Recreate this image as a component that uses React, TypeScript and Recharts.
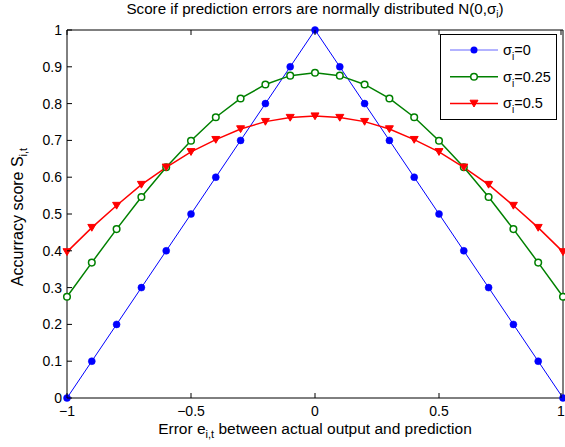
import { LineChart, Line, XAxis, YAxis, Legend } from 'recharts'

const errors = [-1, -0.9, -0.8, -0.7, -0.6, -0.5, -0.4, -0.3, -0.2, -0.1, 0, 0.1, 0.2, 0.3, 0.4, 0.5, 0.6, 0.7, 0.8, 0.9, 1]
const sigma0 = [0, 0.1, 0.2, 0.3, 0.4, 0.5, 0.6, 0.7, 0.8, 0.9, 1, 0.9, 0.8, 0.7, 0.6, 0.5, 0.4, 0.3, 0.2, 0.1, 0]
const sigma025 = [0.275, 0.368, 0.459, 0.546, 0.627, 0.699, 0.763, 0.814, 0.852, 0.876, 0.884, 0.876, 0.852, 0.814, 0.763, 0.699, 0.627, 0.546, 0.459, 0.368, 0.275]
const sigma05 = [0.397, 0.463, 0.523, 0.58, 0.627, 0.669, 0.702, 0.731, 0.751, 0.762, 0.766, 0.762, 0.751, 0.731, 0.702, 0.669, 0.627, 0.58, 0.523, 0.463, 0.397]

const xTicks = [-1, -0.5, 0, 0.5, 1]
const yTicks = [0, 0.1, 0.2, 0.3, 0.4, 0.5, 0.6, 0.7, 0.8, 0.9, 1]
const seriesLabels = ['0', '0.25', '0.5']

const BLUE = '#0000ff'
const GREEN = '#008000'
const RED = '#ff0000'
const FONT = '"Liberation Sans", Arial, Helvetica, sans-serif'
const TICK_LEN = 5

const data = errors.map((e, i) => ({ e, s0: sigma0[i], s25: sigma025[i], s5: sigma05[i] }))

const fmt = (v: number) => (v < 0 ? '\u2212' + String(-v) : String(v))

function BottomTick({ x, y, payload }: any) {
  return (
    <g>
      <line x1={x} x2={x} y1={y} y2={y - TICK_LEN} stroke="#000" />
      <text x={x} y={y + 18} textAnchor="middle" fontSize={14} fontFamily={FONT} fill="#000">
        {fmt(payload.value)}
      </text>
    </g>
  )
}

function TopTick({ x, y }: any) {
  return <line x1={x} x2={x} y1={y} y2={y + TICK_LEN} stroke="#000" />
}

function LeftTick({ x, y, payload }: any) {
  return (
    <g>
      <line x1={x} x2={x + TICK_LEN} y1={y} y2={y} stroke="#000" />
      <text x={x - 5} y={y + 5} textAnchor="end" fontSize={14} fontFamily={FONT} fill="#000">
        {fmt(payload.value)}
      </text>
    </g>
  )
}

function RightTick({ x, y }: any) {
  return <line x1={x} x2={x - TICK_LEN} y1={y} y2={y} stroke="#000" />
}

function XLabel({ viewBox }: any) {
  const cx = viewBox.x + viewBox.width / 2
  return (
    <text x={cx} y={434} textAnchor="middle" fontSize={15.5} fontFamily={FONT} fill="#000">
      Error e<tspan fontSize={11} dy={4}>i,t</tspan>
      <tspan dy={-4}> between actual output and prediction</tspan>
    </text>
  )
}

function YLabel({ viewBox }: any) {
  const cy = viewBox.y + viewBox.height / 2 + 3
  const bx = 23
  return (
    <text
      x={bx}
      y={cy}
      transform={`rotate(-90 ${bx} ${cy})`}
      textAnchor="middle"
      fontSize={16}
      fontFamily={FONT}
      fill="#000"
    >
      Accurracy score S<tspan fontSize={11} dy={4}>i,t</tspan>
    </text>
  )
}

function TriangleDot({ cx, cy, index, size = 4 }: any) {
  return (
    <path
      key={index}
      d={`M${cx - size},${cy - size * 0.8} L${cx + size},${cy - size * 0.8} L${cx},${cy + size * 0.9} Z`}
      fill={RED}
      stroke={RED}
    />
  )
}

function LegendBox() {
  const rows = [
    { color: BLUE, width: 1, marker: 'dot' },
    { color: GREEN, width: 1.5, marker: 'open' },
    { color: RED, width: 1.5, marker: 'tri' },
  ]
  return (
    <div style={{ width: 117, height: 86, border: '1px solid #000', background: '#fff', boxSizing: 'border-box' }}>
      <svg width={115} height={84}>
        {rows.map((r, i) => {
          const y = 15 + i * 26.7
          return (
            <g key={i}>
              <line x1={9} x2={57} y1={y} y2={y} stroke={r.color} strokeWidth={r.width} strokeOpacity={i === 0 ? 0.6 : 1} />
              {r.marker === 'dot' && <circle cx={33} cy={y} r={3.5} fill={BLUE} />}
              {r.marker === 'open' && <circle cx={33} cy={y} r={3.3} fill="#fff" stroke={GREEN} strokeWidth={1.5} />}
              {r.marker === 'tri' && <TriangleDot cx={33} cy={y} size={4} />}
              <text x={62} y={y + 5} fontSize={14.5} fontFamily={FONT} fill="#000">
                {'\u03c3'}
                <tspan fontSize={10} dy={5}>i</tspan>
                <tspan dy={-5}>={seriesLabels[i]}</tspan>
              </text>
            </g>
          )
        })}
      </svg>
    </div>
  )
}

export default function App() {
  return (
    <div style={{ position: 'absolute', left: 0, top: 0, width: 565, height: 447, background: '#fff' }}>
      <div
        style={{
          position: 'absolute',
          left: 0,
          width: 630,
          top: 0,
          textAlign: 'center',
          fontFamily: FONT,
          fontSize: 15.2,
          color: '#000',
          whiteSpace: 'nowrap',
          lineHeight: '17px',
        }}
      >
        Score if prediction errors are normally distributed N(0,{'\u03c3'}
        <span style={{ fontSize: 10, position: 'relative', top: 4 }}>i</span>)
      </div>
      <LineChart width={565} height={447} data={data} margin={{ top: 0, right: 0, bottom: 0, left: 0 }}>
        <XAxis
          dataKey="e"
          type="number"
          domain={[-1, 1]}
          ticks={xTicks}
          height={49}
          tickSize={0}
          tickMargin={0}
          tickLine={false}
          axisLine={{ stroke: '#000' }}
          tick={<BottomTick />}
          label={{ content: <XLabel /> }}
        />
        <XAxis
          xAxisId="top"
          orientation="top"
          dataKey="e"
          type="number"
          domain={[-1, 1]}
          ticks={xTicks}
          height={30}
          tickSize={0}
          tickMargin={0}
          tickLine={false}
          axisLine={{ stroke: '#000' }}
          tick={<TopTick />}
        />
        <YAxis
          type="number"
          domain={[0, 1]}
          ticks={yTicks}
          width={67}
          tickSize={0}
          tickMargin={0}
          tickLine={false}
          axisLine={{ stroke: '#000' }}
          tick={<LeftTick />}
          label={{ content: <YLabel /> }}
        />
        <YAxis
          yAxisId="right"
          orientation="right"
          type="number"
          domain={[0, 1]}
          ticks={yTicks}
          width={2}
          tickSize={0}
          tickMargin={0}
          tickLine={false}
          axisLine={{ stroke: '#000' }}
          tick={<RightTick />}
        />
        <Legend
          layout="vertical"
          align="center"
          verticalAlign="middle"
          wrapperStyle={{ left: 440, top: 34, width: 117 }}
          content={<LegendBox />}
        />
        <Line
          dataKey="s0"
          stroke={BLUE}
          strokeWidth={1}
          isAnimationActive={false}
          dot={{ r: 3.5, fill: BLUE, stroke: BLUE, strokeWidth: 0.5 }}
        />
        <Line
          dataKey="s25"
          stroke={GREEN}
          strokeWidth={1.5}
          isAnimationActive={false}
          dot={{ r: 3.3, fill: '#fff', stroke: GREEN, strokeWidth: 1.5 }}
        />
        <Line
          dataKey="s5"
          stroke={RED}
          strokeWidth={1.5}
          isAnimationActive={false}
          dot={<TriangleDot />}
        />
      </LineChart>
    </div>
  )
}
